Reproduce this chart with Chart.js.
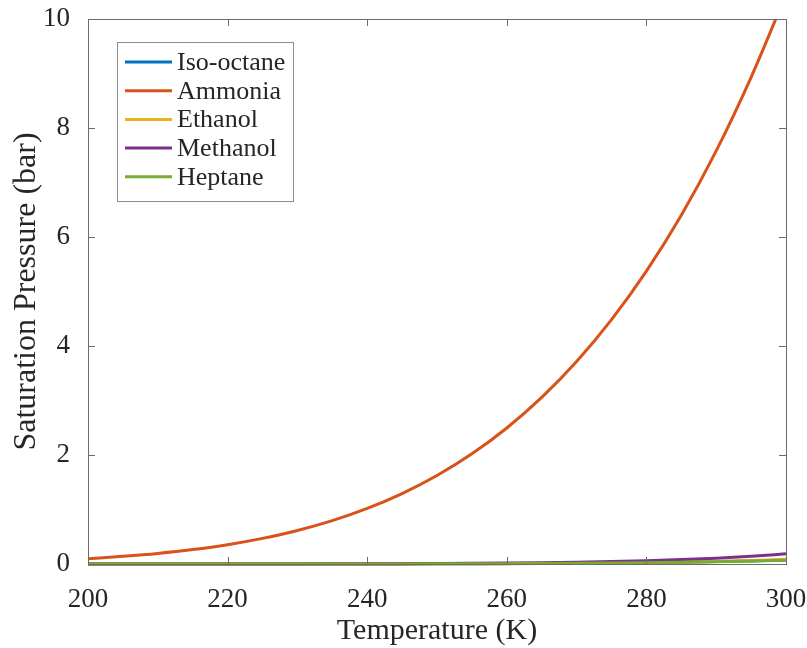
<!DOCTYPE html>
<html>
<head>
<meta charset="utf-8">
<script src="https://cdn.jsdelivr.net/npm/chart.js@4/dist/chart.umd.min.js"></script>
<style>
  html, body { margin: 0; padding: 0; background: #fff; }
  #wrap { width: 807px; height: 648px; }
</style>
</head>
<body>
<div id="wrap"><canvas id="pressureChart" width="807" height="648"></canvas></div>
<script>
const temps = [200, 205, 210, 215, 220, 225, 230, 235, 240, 245, 250, 255, 260, 265, 270, 275, 280, 285, 290, 295, 300];

const isoOctane = [0.00004, 0.00007, 0.0001, 0.0002, 0.0003, 0.0005, 0.0007, 0.0011, 0.0017, 0.0025, 0.0037, 0.0053, 0.0075, 0.0103, 0.014, 0.019, 0.026, 0.034, 0.044, 0.057, 0.072];
const ammonia = [0.095, 0.140, 0.194, 0.264, 0.354, 0.470, 0.615, 0.796, 1.02, 1.293, 1.624, 2.022, 2.496, 3.057, 3.715, 4.484, 5.375, 6.40, 7.58, 8.93, 10.45];
const ethanol = [0.00001, 0.00002, 0.00004, 0.00007, 0.0001, 0.0002, 0.0003, 0.0006, 0.001, 0.0017, 0.0027, 0.004, 0.0058, 0.0087, 0.0125, 0.0178, 0.025, 0.035, 0.047, 0.065, 0.087];
const methanol = [0.00005, 0.0001, 0.0002, 0.0003, 0.0005, 0.0009, 0.0015, 0.0024, 0.0035, 0.0055, 0.0085, 0.012, 0.0167, 0.024, 0.033, 0.045, 0.061, 0.081, 0.107, 0.142, 0.187];
const heptane = [0.00002, 0.00004, 0.00007, 0.0001, 0.0002, 0.0003, 0.0005, 0.0008, 0.0013, 0.002, 0.003, 0.0045, 0.0064, 0.0092, 0.0127, 0.0173, 0.023, 0.031, 0.041, 0.053, 0.067];

const seriesNames = ["Iso-octane", "Ammonia", "Ethanol", "Methanol", "Heptane"];
const seriesColors = ["#0072BD", "#D95319", "#EDB120", "#7E2F8E", "#77AC30"];
const seriesValues = [isoOctane, ammonia, ethanol, methanol, heptane];

const serif = "'Liberation Serif', 'Times New Roman', serif";
const ink = "#262626";

function toPoints(values) {
  return temps.map((t, i) => ({ x: t, y: values[i] }));
}

// box around the plot with inward ticks on all four sides
const boxPlugin = {
  id: "box",
  afterDatasetsDraw(chart) {
    const { ctx, chartArea: a, scales } = chart;
    const len = 7;
    ctx.save();
    ctx.strokeStyle = "#6b6b6b";
    ctx.lineWidth = 1;
    ctx.beginPath();
    scales.x.ticks.forEach((t) => {
      const px = Math.round(scales.x.getPixelForValue(t.value)) + 0.5;
      ctx.moveTo(px, a.bottom); ctx.lineTo(px, a.bottom - len);
      ctx.moveTo(px, a.top); ctx.lineTo(px, a.top + len);
    });
    scales.y.ticks.forEach((t) => {
      const py = Math.round(scales.y.getPixelForValue(t.value)) + 0.5;
      ctx.moveTo(a.left, py); ctx.lineTo(a.left + len, py);
      ctx.moveTo(a.right, py); ctx.lineTo(a.right - len, py);
    });
    ctx.stroke();
    ctx.strokeRect(Math.round(a.left) + 0.5, Math.round(a.top) + 0.5,
      Math.round(a.right - a.left), Math.round(a.bottom - a.top));
    ctx.restore();
  }
};

// legend box inside the plot, top left
const legendPlugin = {
  id: "insideLegend",
  afterDraw(chart) {
    const { ctx } = chart;
    const x0 = 117, y0 = 42, w = 176, h = 159;
    const rowH = 28.7;
    ctx.save();
    ctx.fillStyle = "#fff";
    ctx.fillRect(x0, y0, w, h);
    ctx.strokeStyle = "#8c8c8c";
    ctx.lineWidth = 1;
    ctx.strokeRect(x0 + 0.5, y0 + 0.5, w, h);
    ctx.font = "26px " + serif;
    ctx.textBaseline = "middle";
    chart.data.datasets.forEach((ds, i) => {
      const cy = y0 + 20 + i * rowH;
      ctx.strokeStyle = ds.borderColor;
      ctx.lineWidth = 3;
      ctx.beginPath();
      ctx.moveTo(125, cy);
      ctx.lineTo(172, cy);
      ctx.stroke();
      ctx.fillStyle = ink;
      ctx.fillText(ds.label, 177, cy + 1);
    });
    ctx.restore();
  }
};

const ctxChart = document.getElementById("pressureChart");

const pressureChart = new Chart(ctxChart, {
  type: "line",
  data: {
    datasets: seriesNames.map((name, i) => ({
      label: name,
      data: toPoints(seriesValues[i]),
      borderColor: seriesColors[i],
      backgroundColor: seriesColors[i],
      borderWidth: 3,
      pointRadius: 0,
      cubicInterpolationMode: "monotone",
      clip: { left: 0, top: 0, right: 0, bottom: 2 },
      order: seriesNames.length - 1 - i,
    })),
  },
  options: {
    responsive: false,
    animation: false,
    layout: { padding: { top: 19, right: 21, left: 0, bottom: 0 } },
    plugins: {
      legend: { display: false },
      tooltip: { enabled: false },
    },
    scales: {
      x: {
        type: "linear",
        min: 200,
        max: 300,
        grid: { display: false },
        border: { display: false },
        ticks: {
          stepSize: 20,
          padding: 12,
          color: ink,
          font: { family: serif, size: 27 },
          maxRotation: 0,
        },
        title: {
          display: true,
          text: "Temperature (K)",
          color: ink,
          font: { family: serif, size: 30, lineHeight: 1 },
          padding: { top: 0, bottom: 2 },
        },
        afterFit(scale) {
          scale.height = 84;
          scale.paddingLeft = 0;
          scale.paddingRight = 0;
        },
      },
      y: {
        min: 0,
        max: 10,
        grid: { display: false },
        border: { display: false },
        ticks: {
          stepSize: 2,
          padding: 10,
          color: ink,
          font: { family: serif, size: 27 },
        },
        title: {
          display: true,
          text: "Saturation Pressure (bar)",
          color: ink,
          font: { family: serif, size: 32, lineHeight: 1 },
          padding: { top: 11, bottom: 0 },
        },
        afterFit(scale) {
          scale.width = 88;
          scale.paddingTop = 0;
          scale.paddingBottom = 0;
        },
      },
    },
  },
  plugins: [boxPlugin, legendPlugin],
});
</script>
</body>
</html>
